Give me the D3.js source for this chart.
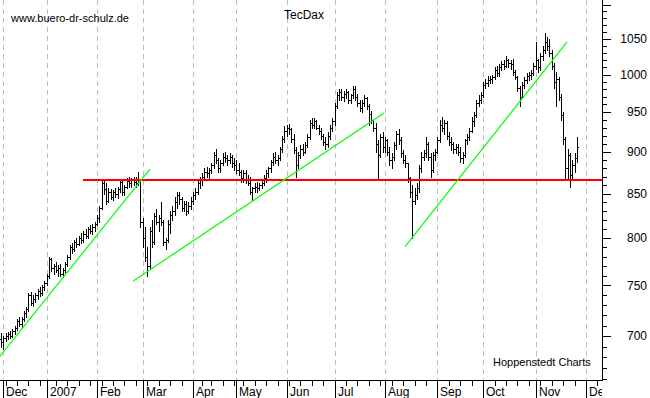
<!DOCTYPE html>
<html>
<head>
<meta charset="utf-8">
<script src="https://cdn.jsdelivr.net/npm/d3@7"></script>
<style>
    body { margin: 0; background: #fff; }
    svg { display: block; font-family: Arial, "Liberation Sans", sans-serif; }
</style>
</head>
<body>
<div class="canvas"></div>
<script>
// trading calendar (Xetra), first bar 30 Nov 2006
const firstDay = '2006-11-30';
const lastDay = '2007-12-14';
const holidays = ['2006-12-25', '2006-12-26', '2007-01-01', '2007-04-06', '2007-04-09',
    '2007-05-01', '2007-12-24', '2007-12-25', '2007-12-26', '2007-12-31'];

// daily OHLC, Dec 2006 .. Nov 2007 (one row per month)
const opens = [
    697, 694, 698, 700, 702, 700, 705, 708, 714, 712, 716, 722, 726, 740, 732, 736, 740, 744, 742, 748,
    752, 760, 778, 768, 770, 766, 768, 762, 766, 772, 780, 790, 788, 796, 794, 800, 798, 805, 802, 810, 808, 812,
    816, 822, 834, 862, 855, 842, 852, 846, 852, 850, 855, 864, 852, 858, 865, 862, 866, 864, 862, 866,
    818, 800, 780, 770, 808, 796, 824, 818, 822, 818, 796, 798, 816, 826, 830, 840, 848, 844, 834, 838, 830, 836,
    842, 848, 852, 862, 866, 870, 876, 874, 878, 884, 896, 890, 880, 886, 894, 892, 890, 894, 886,
    884, 878, 876, 868, 874, 866, 862, 852, 856, 858, 856, 860, 862, 868, 874, 880, 888, 894, 890, 892, 904, 916,
    926, 930, 928, 916, 902, 884, 896, 904, 900, 908, 918, 936, 934, 938, 930, 926, 920, 912, 910, 920, 930,
    938, 958, 972, 976, 970, 974, 976, 966, 972, 980, 970, 962, 956, 962, 968, 958, 948, 940, 930, 910, 896, 918,
    906, 914, 900, 890, 894, 908, 922, 914, 898, 890, 886, 868, 852, 842, 848, 856, 880, 894, 898, 910, 894, 878, 896,
    900, 914, 934, 930, 936, 920, 912, 910, 904, 906, 900, 892, 896, 914, 918, 926, 938, 946, 962, 966,
    972, 986, 988, 992, 994, 996, 1006, 1002, 1010, 1014, 1012, 1020, 1016, 1014, 1004, 996, 982, 970, 986, 992, 998, 1000, 1002,
    1012, 1020, 1010, 1026, 1034, 1046, 1040, 1030, 1012, 990, 994, 970, 946, 916, 880, 896, 872, 884, 892
];
const highs = [
    703, 700, 703, 704, 705, 707, 710, 716, 718, 718, 724, 728, 742, 743, 740, 742, 746, 748, 750, 755,
    762, 780, 779, 772, 774, 771, 772, 768, 774, 782, 792, 795, 798, 800, 802, 806, 808, 810, 812, 814, 815, 818,
    826, 836, 866, 866, 862, 856, 855, 854, 856, 858, 866, 865, 860, 868, 869, 868, 869, 870, 876, 866,
    822, 812, 790, 812, 820, 828, 832, 826, 840, 820, 800, 820, 830, 836, 846, 852, 852, 846, 842, 842, 840, 846,
    852, 856, 866, 870, 874, 880, 882, 880, 886, 900, 904, 892, 890, 898, 900, 896, 898, 896, 892,
    890, 886, 878, 878, 878, 872, 870, 858, 862, 864, 862, 866, 872, 878, 882, 890, 898, 900, 896, 906, 920, 932,
    934, 935, 930, 922, 906, 900, 908, 910, 912, 922, 940, 942, 942, 940, 934, 930, 922, 918, 924, 934, 942,
    962, 976, 980, 980, 978, 980, 978, 974, 984, 984, 974, 966, 966, 972, 970, 960, 952, 940, 936, 914, 922, 924,
    918, 916, 906, 898, 912, 926, 928, 918, 902, 896, 886, 870, 860, 856, 862, 884, 900, 902, 918, 912, 898, 900, 904,
    918, 940, 944, 940, 938, 924, 918, 912, 910, 910, 906, 900, 916, 922, 930, 944, 950, 966, 972, 976,
    990, 994, 998, 998, 1000, 1010, 1012, 1014, 1018, 1020, 1026, 1022, 1020, 1022, 1006, 998, 984, 990, 996, 1002, 1004, 1006, 1016,
    1046, 1022, 1030, 1040, 1058, 1052, 1050, 1034, 1016, 1004, 996, 974, 950, 918, 904, 898, 890, 898, 918
];
const lows = [
    690, 688, 695, 697, 698, 699, 702, 706, 710, 709, 714, 718, 724, 730, 729, 733, 736, 739, 740, 745,
    750, 758, 765, 762, 764, 760, 760, 759, 764, 770, 778, 784, 786, 790, 792, 795, 796, 800, 800, 806, 805, 808,
    814, 818, 832, 850, 838, 840, 844, 843, 846, 845, 852, 848, 848, 856, 858, 858, 860, 858, 860, 812,
    790, 775, 760, 768, 790, 794, 815, 808, 814, 792, 788, 796, 806, 820, 826, 834, 838, 830, 830, 826, 828, 832,
    838, 844, 850, 856, 860, 866, 870, 868, 874, 880, 886, 876, 876, 884, 888, 884, 886, 882, 878,
    874, 872, 864, 864, 862, 860, 850, 843, 852, 852, 854, 856, 860, 864, 870, 876, 884, 886, 884, 890, 900, 912,
    920, 922, 912, 898, 870, 880, 892, 896, 898, 906, 916, 930, 930, 928, 922, 916, 908, 904, 906, 916, 926,
    934, 955, 966, 966, 964, 968, 962, 962, 968, 966, 958, 952, 950, 958, 954, 934, 936, 926, 900, 866, 894, 900,
    900, 896, 884, 880, 890, 904, 910, 894, 886, 882, 864, 846, 800, 838, 844, 852, 876, 890, 894, 890, 870, 876, 890,
    898, 912, 926, 922, 916, 908, 902, 898, 898, 896, 888, 886, 894, 910, 914, 924, 932, 944, 958, 962,
    970, 982, 984, 988, 988, 994, 998, 998, 1006, 1008, 1010, 1010, 1008, 1000, 994, 978, 958, 968, 982, 988, 992, 994, 1000,
    1008, 1004, 1006, 1020, 1030, 1034, 1026, 1008, 982, 958, 966, 940, 910, 866, 868, 858, 868, 876, 888
];
const closes = [
    694, 698, 700, 702, 700, 705, 708, 714, 712, 716, 722, 726, 740, 732, 736, 740, 744, 742, 748, 752,
    760, 778, 768, 770, 766, 768, 762, 766, 772, 780, 790, 788, 796, 794, 800, 798, 805, 802, 810, 808, 812, 816,
    822, 834, 862, 855, 842, 852, 846, 852, 850, 855, 864, 852, 858, 865, 862, 866, 864, 862, 866, 818,
    800, 780, 770, 808, 796, 824, 818, 822, 818, 796, 798, 816, 826, 830, 840, 848, 844, 834, 838, 830, 836, 842,
    848, 852, 862, 866, 870, 876, 874, 878, 884, 896, 890, 880, 886, 894, 892, 890, 894, 886, 884,
    878, 876, 868, 874, 866, 862, 852, 856, 858, 856, 860, 862, 868, 874, 880, 888, 894, 890, 892, 904, 916, 926,
    930, 928, 916, 902, 884, 896, 904, 900, 908, 918, 936, 934, 938, 930, 926, 920, 912, 910, 920, 930, 938,
    958, 972, 976, 970, 974, 976, 966, 972, 980, 970, 962, 956, 962, 968, 958, 948, 940, 930, 910, 896, 918, 906,
    914, 900, 890, 894, 908, 922, 914, 898, 890, 886, 868, 852, 842, 848, 856, 880, 894, 898, 910, 894, 878, 896, 900,
    914, 934, 930, 936, 920, 912, 910, 904, 906, 900, 892, 896, 914, 918, 926, 938, 946, 962, 966, 972,
    986, 988, 992, 994, 996, 1006, 1002, 1010, 1014, 1012, 1020, 1016, 1014, 1004, 996, 982, 970, 986, 992, 998, 1000, 1002, 1012,
    1020, 1010, 1026, 1034, 1046, 1040, 1030, 1012, 990, 994, 970, 946, 916, 880, 896, 872, 884, 892, 906
];

// month label by calendar month (January shows the year)
const monthLabels = ['2007', 'Feb', 'Mar', 'Apr', 'May', 'Jun', 'Jul', 'Aug', 'Sep', 'Oct', 'Nov', 'Dec'];
const yTicks = [700, 750, 800, 850, 900, 950, 1000, 1050];
const yMinor = d3.range(660, 1101, 10);

// resistance line: start day index, level
const resistance = { from: 36, level: 866 };
// support lines: [day index, value] pairs
const trendLines = [
    [[-0.44, 681], [65.2, 879]],
    [[57.9, 754.5], [167.6, 949]],
    [[176.8, 790.7], [247.7, 1045.5]]
];

const dims = { width: 650, height: 398 };
const plot = { right: 602, bottom: 380 };

// build trading days
const parse = d3.timeParse('%Y-%m-%d');
const fmt = d3.timeFormat('%Y-%m-%d');
const days = d3.timeDay.range(parse(firstDay), d3.timeDay.offset(parse(lastDay), 1))
    .filter(d => d.getDay() !== 0 && d.getDay() !== 6 && !holidays.includes(fmt(d)));

const n = Math.min(opens.length, highs.length, lows.length, closes.length);
const bars = d3.range(n).map(i => ({ i, o: opens[i], h: highs[i], l: lows[i], c: closes[i] }));

const x = d3.scaleLinear().domain([-0.44, 263]).range([0, plot.right]);
const y = d3.scaleLog().domain([659.2, 1107]).range([plot.bottom, 0]);

const svg = d3.select('.canvas')
    .append('svg')
    .attr('width', dims.width)
    .attr('height', dims.height)
;

svg.append('defs').append('clipPath').attr('id', 'clip')
    .append('rect').attr('x', 0).attr('y', 0).attr('width', plot.right).attr('height', dims.height);

// month starts / week starts
const monthStarts = [];
const weekStarts = [];
days.forEach((d, i) => {
    const prev = days[i - 1];
    if (!prev) return;
    if (d.getMonth() !== prev.getMonth()) monthStarts.push({ i, d });
    else if (d3.timeMonday.floor(d).getTime() !== d3.timeMonday.floor(prev).getTime()) weekStarts.push(i);
});

const px = v => Math.round(v) + 0.5;

// grid
const grid = svg.append('g').attr('clip-path', 'url(#clip)').attr('shape-rendering', 'crispEdges');
grid.selectAll('line')
    .data(monthStarts)
    .enter().append('line')
    .attr('x1', d => px(x(d.i))).attr('x2', d => px(x(d.i)))
    .attr('y1', 0).attr('y2', plot.bottom)
    .attr('stroke', '#bdbdbd')
    .attr('stroke-dasharray', '5,4')
;

// bottom axis
const xAxis = svg.append('g').attr('clip-path', 'url(#clip)');
xAxis.selectAll('line.major')
    .data(monthStarts)
    .enter().append('line')
    .attr('class', 'major')
    .attr('x1', d => px(x(d.i))).attr('x2', d => px(x(d.i)))
    .attr('y1', plot.bottom).attr('y2', dims.height)
    .attr('stroke', '#000')
    .attr('shape-rendering', 'crispEdges')
;
xAxis.selectAll('line.minor')
    .data(weekStarts)
    .enter().append('line')
    .attr('class', 'minor')
    .attr('x1', d => px(x(d))).attr('x2', d => px(x(d)))
    .attr('y1', plot.bottom).attr('y2', plot.bottom + 6)
    .attr('stroke', '#000')
    .attr('shape-rendering', 'crispEdges')
;
xAxis.selectAll('text')
    .data(monthStarts)
    .enter().append('text')
    .attr('x', d => Math.round(x(d.i)) + 3)
    .attr('y', 396)
    .attr('font-size', 12)
    .text(d => monthLabels[d.d.getMonth()])
;

svg.append('line')
    .attr('x1', 0).attr('x2', plot.right + 1)
    .attr('y1', plot.bottom + 0.5).attr('y2', plot.bottom + 0.5)
    .attr('stroke', '#000')
    .attr('shape-rendering', 'crispEdges');

// right axis
const yAxis = svg.append('g').attr('shape-rendering', 'crispEdges');
yAxis.append('line')
    .attr('x1', plot.right + 0.5).attr('x2', plot.right + 0.5)
    .attr('y1', 0).attr('y2', plot.bottom + 1)
    .attr('stroke', '#000');
yAxis.selectAll('line')
    .data(yMinor, d => d)
    .enter().append('line')
    .attr('x1', plot.right)
    .attr('x2', d => plot.right + (d % 50 === 0 ? 9 : 5))
    .attr('y1', d => px(y(d))).attr('y2', d => px(y(d)))
    .attr('stroke', '#000');
yAxis.selectAll('text')
    .data(yTicks)
    .enter().append('text')
    .attr('x', 647)
    .attr('y', d => y(d))
    .attr('dy', '0.36em')
    .attr('text-anchor', 'end')
    .attr('font-size', 12)
    .text(d => d);

// price bars: high-low stem, open tick left, close tick right
const barPath = d => {
    const xc = Math.round(x(d.i));
    const yo = Math.round(y(d.o)) + 0.5;
    const yc = Math.round(y(d.c)) + 0.5;
    return `M${xc + 0.5},${Math.round(y(d.h))}V${Math.round(y(d.l)) + 1}` +
        `M${xc - 1},${yo}H${xc}M${xc + 1},${yc}H${xc + 2}`;
};
svg.append('g')
    .attr('shape-rendering', 'crispEdges')
    .selectAll('path')
    .data(bars)
    .enter().append('path')
    .attr('d', barPath)
    .attr('fill', 'none')
    .attr('stroke', '#000')
    .attr('stroke-width', 1)
;

// resistance and trend lines
const lines = svg.append('g').attr('clip-path', 'url(#clip)');
lines.append('line')
    .attr('x1', x(resistance.from)).attr('x2', plot.right)
    .attr('y1', y(resistance.level)).attr('y2', y(resistance.level))
    .attr('stroke', '#ff0000')
    .attr('stroke-width', 2)
    .attr('shape-rendering', 'crispEdges');

lines.selectAll('line.trend')
    .data(trendLines)
    .enter().append('line')
    .attr('class', 'trend')
    .attr('x1', d => x(d[0][0])).attr('y1', d => y(d[0][1]))
    .attr('x2', d => x(d[1][0])).attr('y2', d => y(d[1][1]))
    .attr('stroke', '#00ff00')
    .attr('stroke-width', 1.2);

// labels
svg.append('text')
    .attr('x', 11).attr('y', 22)
    .attr('font-size', 11)
    .text('www.buero-dr-schulz.de');
svg.append('text')
    .attr('x', 304).attr('y', 19)
    .attr('text-anchor', 'middle')
    .attr('font-size', 12)
    .text('TecDax');
svg.append('text')
    .attr('x', 493).attr('y', 366)
    .attr('font-size', 11)
    .text('Hoppenstedt Charts');
</script>
</body>
</html>
